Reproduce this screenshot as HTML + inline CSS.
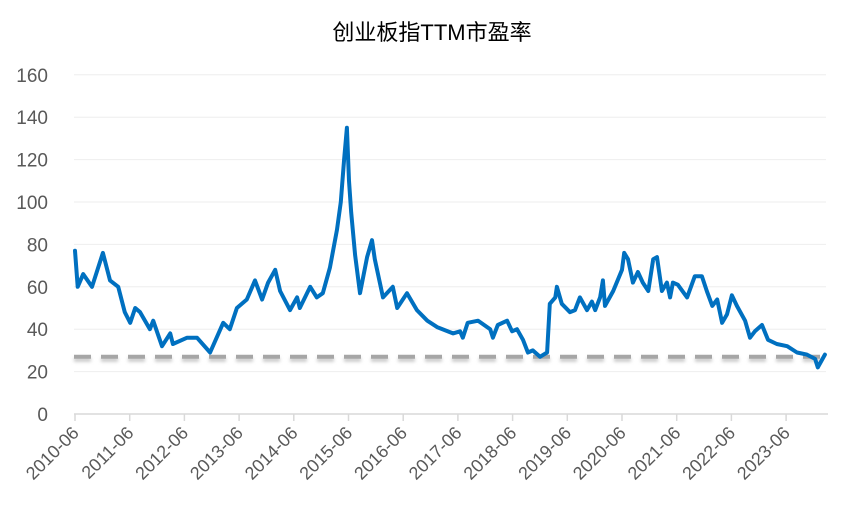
<!DOCTYPE html>
<html><head><meta charset="utf-8"><style>
body{margin:0;background:#fff;}
svg{display:block;font-family:"Liberation Sans","Noto Sans CJK SC",sans-serif;}
</style></head><body>
<svg id="chart" width="865" height="516" viewBox="0 0 865 516">
<defs><filter id="bl" filterUnits="userSpaceOnUse" x="0" y="300" width="865" height="120"><feGaussianBlur stdDeviation="1.6"/></filter></defs>
<text x="432" y="40" text-anchor="middle" font-size="22" fill="#000" font-family="Liberation Sans,Noto Sans CJK SC,sans-serif">创业板指TTM市盈率</text>
<g id="grid"></g><g id="yl"></g><g id="xl"></g><g id="series"></g>
</svg>
<script>
const yTicks=[0,20,40,60,80,100,120,140,160];
const xTickLabels=["2010-06","2011-06","2012-06","2013-06","2014-06","2015-06","2016-06","2017-06","2018-06","2019-06","2020-06","2021-06","2022-06","2023-06"];
const dates=[0,.05,.15,.31,.51,.64,.79,.91,1.01,1.10,1.19,1.37,1.43,1.59,1.74,1.79,2.05,2.23,2.47,2.71,2.83,2.96,3.14,3.29,3.42,3.53,3.66,3.75,3.93,4.06,4.11,4.30,4.42,4.53,4.66,4.79,4.86,4.92,4.97,5.01,5.05,5.12,5.21,5.34,5.43,5.48,5.63,5.81,5.89,6.07,6.25,6.44,6.62,6.91,7.04,7.09,7.18,7.37,7.59,7.64,7.73,7.90,7.99,8.08,8.19,8.28,8.37,8.50,8.63,8.68,8.78,8.81,8.90,9.05,9.14,9.23,9.36,9.45,9.51,9.60,9.65,9.69,9.84,10.0,10.04,10.11,10.20,10.29,10.38,10.48,10.57,10.64,10.73,10.82,10.88,10.93,11.02,11.19,11.33,11.46,11.55,11.65,11.74,11.83,11.92,12.01,12.10,12.25,12.34,12.43,12.56,12.67,12.83,13.02,13.20,13.38,13.53,13.58,13.71];
const peValues=[77,60,66,60,76,63,60,48,43,50,48,40,44,32,38,33,36,36,29,43,40,50,54,63,54,62,68,58,49,55,50,60,55,57,69,87,100,120,135,110,95,75,57,74,82,73,55,60,50,57,49,44,41,38,39,36,43,44,40,36,42,44,39,40,35,29,30,27,29,52,55,60,52,48,49,55,49,53,49,55,63,51,58,68,76,73,62,67,62,58,73,74,58,62,55,62,61,55,65,65,58,51,54,43,47,56,51,44,36,39,42,35,33,32,29,28,26,22,28];
const refValue=[27];
const X0=75,XS=54.7,Y0=414,YS=2.12;
const xAt=t=>X0+t*XS, yAt=v=>Y0-v*YS;
const NS="http://www.w3.org/2000/svg";
function mk(tag,attrs,parent){const e=document.createElementNS(NS,tag);for(const k in attrs)e.setAttribute(k,attrs[k]);parent.appendChild(e);return e;}
const grid=document.getElementById('grid'),yl=document.getElementById('yl'),xl=document.getElementById('xl'),series=document.getElementById('series');
yTicks.forEach(v=>{
  if(v>0){const g=mk('line',{x1:74,x2:826,y1:yAt(v),y2:yAt(v),stroke:'#eeeeee','stroke-width':1},grid);
  
  }
  const t=mk('text',{x:48,y:yAt(v)+7,'text-anchor':'end','font-size':19,fill:'#595959'},yl);
  t.textContent=v;
  
  
});
const ax=mk('line',{x1:74,x2:828,y1:Y0,y2:Y0,stroke:'#d9d9d9','stroke-width':1.5},grid);


xTickLabels.forEach((s,i)=>{
  const x=xAt(i);
  const tk=mk('line',{x1:x,x2:x,y1:Y0,y2:Y0+7,stroke:'#d9d9d9','stroke-width':1.5},grid);
  
  
  const t=mk('text',{x:x+5,y:Y0+20,'text-anchor':'end','font-size':18,fill:'#595959',transform:`rotate(-45 ${x+5} ${Y0+20})`},xl);
  t.textContent=s;
  
  
});
const ry=yAt(refValue[0]);
const refSh=mk('line',{x1:74,x2:826,y1:ry+3,y2:ry+3,stroke:'#c8c8c8','stroke-width':4,'stroke-dasharray':'17 10',filter:'url(#bl)'},series);


const ref=mk('line',{x1:74,x2:826,y1:ry,y2:ry,stroke:'#a6a6a6','stroke-width':4,'stroke-dasharray':'17 10'},series);


const d=dates.map((t,i)=>(i?'L':'M')+xAt(t).toFixed(1)+','+yAt(peValues[i]).toFixed(1)).join('');
const p=mk('path',{d:d,fill:'none',stroke:'#0070c0','stroke-width':4,'stroke-linejoin':'round','stroke-linecap':'round'},series);


</script>
</body></html>
